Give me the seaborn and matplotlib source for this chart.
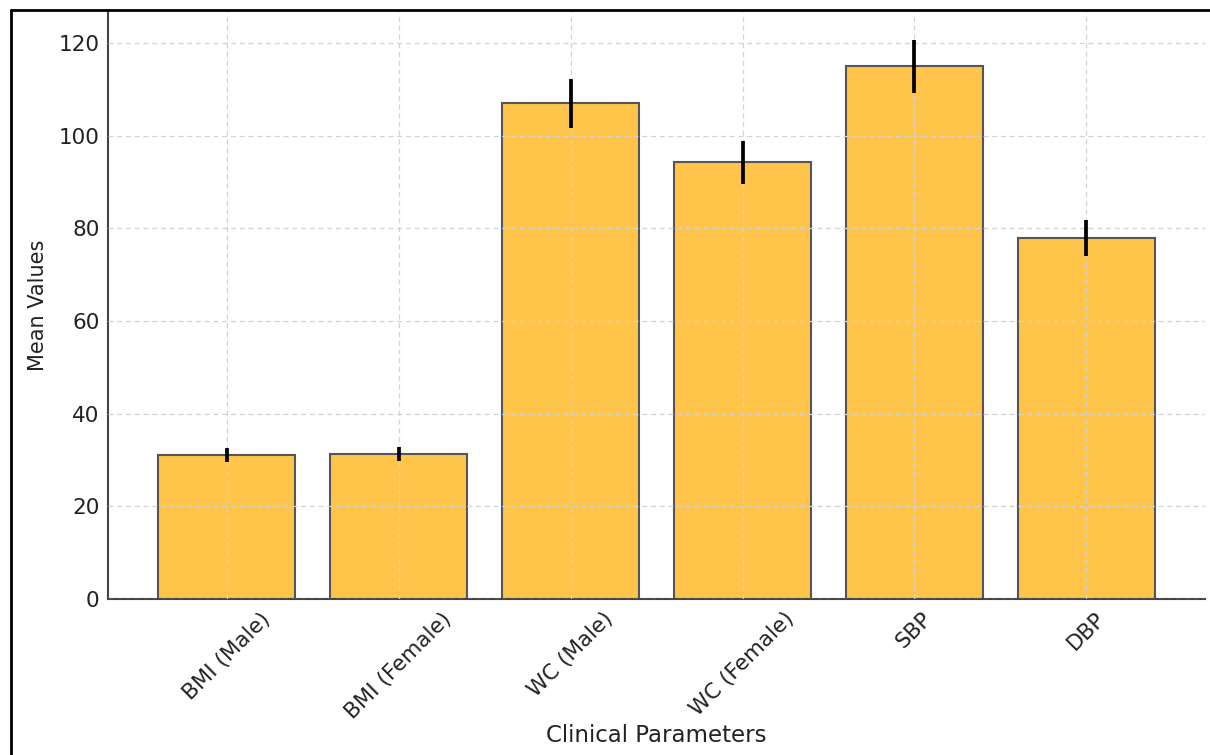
import numpy as np
import pandas as pd
import matplotlib
matplotlib.use("Agg")
import matplotlib.pyplot as plt
from matplotlib.lines import Line2D
import seaborn as sns

# --- data ---
parameters = ["BMI (Male)", "BMI (Female)", "WC (Male)", "WC (Female)", "SBP", "DBP"]
mean_values = [31.1, 31.3, 107.0, 94.3, 115.0, 77.9]
std_values = [1.5, 1.6, 5.3, 4.65, 5.75, 3.85]

df = pd.DataFrame({"param": parameters, "mean": mean_values, "sd": std_values})

sns.set_style("white")
plt.rcParams["font.family"] = ["DejaVu Sans"]

fig = plt.figure(figsize=(12.1, 7.55), dpi=100)
ax = fig.add_axes([0.0893, 0.2066, 0.9066, 0.7775])

sns.barplot(data=df, x="param", y="mean", color="#FFC54A", saturation=1,
            edgecolor="#555555", linewidth=1.5, errorbar=None, ax=ax)
ax.errorbar(np.arange(len(df)), df["mean"], yerr=df["sd"], fmt="none",
            ecolor="black", elinewidth=2.7, capsize=0, zorder=4)

ax.set_xlim(-0.69, 5.69)
ax.set_ylim(0, 126.7)
ax.set_yticks(range(0, 121, 20))
ax.grid(True, linestyle=(0, (4, 3)), color="#d2d2d2", linewidth=0.9)
ax.set_axisbelow(False)
for gl in ax.get_xgridlines() + ax.get_ygridlines():
    gl.set_zorder(2.5)

ax.set_xlabel("Clinical Parameters", fontsize=16.5, color="#222222", labelpad=1)
ax.set_ylabel("Mean Values", fontsize=15, color="#222222", labelpad=8)
ax.tick_params(axis="both", direction="in", length=5, width=1.2,
               colors="#444444", labelsize=15.5, labelcolor="#222222")
ax.tick_params(axis="y", pad=6)
ax.tick_params(axis="x", pad=7)
plt.setp(ax.get_xticklabels(), rotation=45)

for side in ["top", "right"]:
    ax.spines[side].set_visible(False)
for side in ["left", "bottom"]:
    ax.spines[side].set_color("#444444")
    ax.spines[side].set_linewidth(1.5)

# frame of the screenshot (left and top edges)
fig.add_artist(Line2D([0.0087, 0.0087], [0, 0.987], transform=fig.transFigure,
                      color="black", linewidth=2))
fig.add_artist(Line2D([0.0087, 1.0], [0.987, 0.987], transform=fig.transFigure,
                      color="black", linewidth=2))

fig.savefig("out.png", dpi=100)
